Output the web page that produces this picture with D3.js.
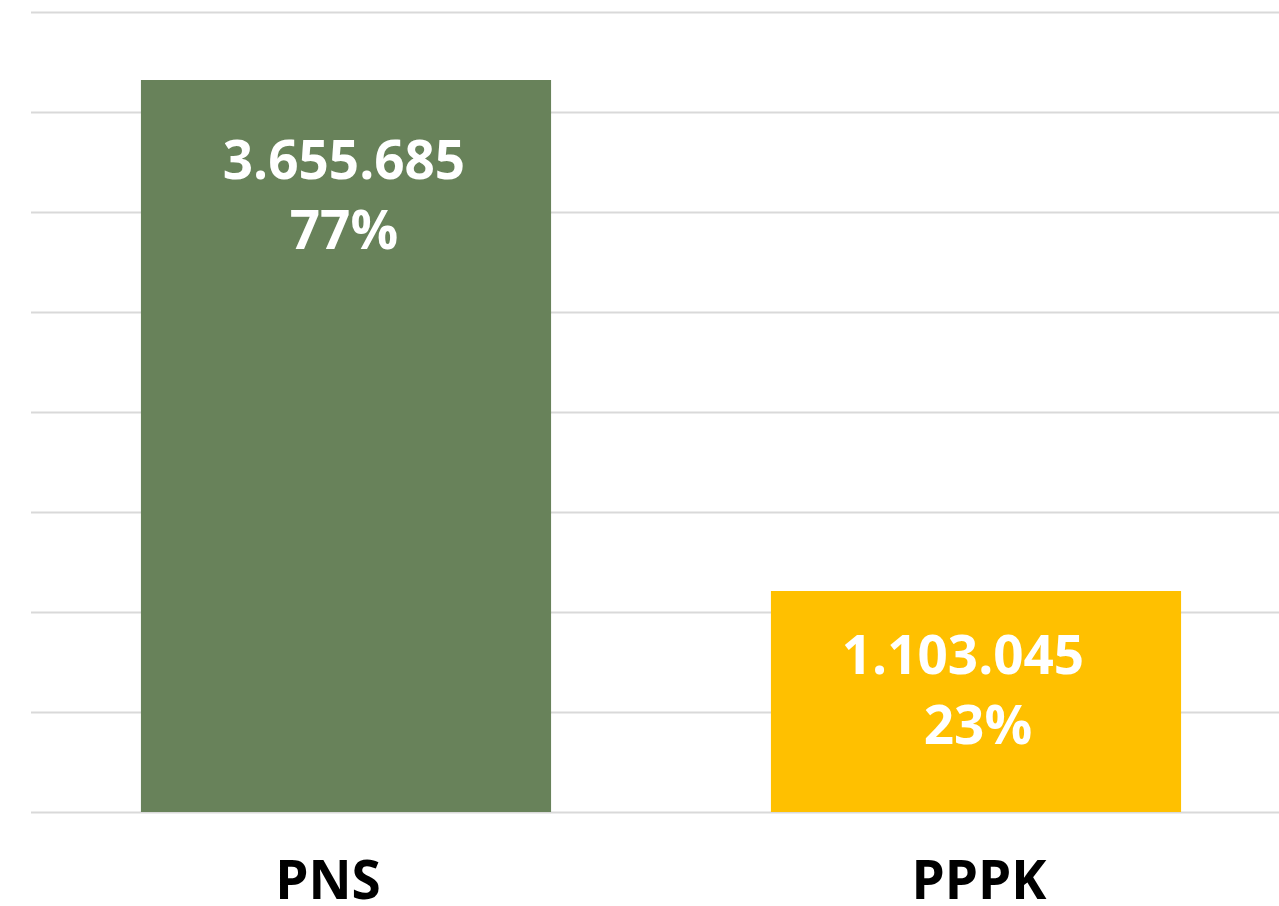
<!DOCTYPE html>
<html><head><meta charset="utf-8">
<script src="https://cdn.jsdelivr.net/npm/d3@7"></script>
<style>html,body{margin:0;padding:0;background:#fff;overflow:hidden}</style>
</head><body>
<script>
const categories = ["PNS", "PPPK"];
const values = [3655685, 1103045];
const percents = ["77%", "23%"];
const colors = ["#68825a", "#ffc000"];
const yTicks = [0, 500000, 1000000, 1500000, 2000000, 2500000, 3000000, 3500000, 4000000];

const W = 1279, H = 906;
const svg = d3.select("body").append("svg").attr("width", W).attr("height", H);

const x = d3.scaleBand().domain(categories).range([31, 1291]).paddingInner(0.349).paddingOuter(0.1745);
const y = d3.scaleLinear().domain([0, 4000000]).range([812, 12]);

svg.append("g").selectAll("line").data(yTicks).join("line")
  .attr("x1", 31).attr("x2", W)
  .attr("y1", d => y(d) + 0.5).attr("y2", d => y(d) + 0.5)
  .attr("stroke", "#d9d9d9").attr("stroke-width", 2);

const fmt = v => d3.format(",")(v).replace(/,/g, ".");

svg.append("g").selectAll("rect").data(values).join("rect")
  .attr("x", (d, i) => x(categories[i]))
  .attr("width", x.bandwidth())
  .attr("y", d => Math.floor(y(d)))
  .attr("height", d => y(0) - Math.floor(y(d)))
  .attr("fill", (d, i) => colors[i]);

const labelOffsets = [98, 83];
const labelShift = [-2, -13];
const pctShift = [-2, 2];
const g = svg.append("g").attr("font-family", "'Open Sans', sans-serif").attr("font-weight", 700)
  .attr("font-size", 53).attr("fill", "#fff").attr("text-anchor", "middle");
values.forEach((v, i) => {
  const cx = x(categories[i]) + x.bandwidth() / 2;
  g.append("text").attr("x", cx + labelShift[i]).attr("y", y(v) + labelOffsets[i]).text(fmt(v));
  g.append("text").attr("x", cx + pctShift[i]).attr("y", y(v) + labelOffsets[i] + 70).text(percents[i]);
});

const catShift = [-18, 3];
svg.append("g").selectAll("text").data(categories).join("text")
  .attr("x", (d, i) => x(d) + x.bandwidth() / 2 + catShift[i])
  .attr("y", 899)
  .attr("text-anchor", "middle")
  .attr("font-family", "'Open Sans', sans-serif").attr("font-weight", 700)
  .attr("font-size", 53).attr("fill", "#000")
  .text(d => d);
</script>
</body></html>
